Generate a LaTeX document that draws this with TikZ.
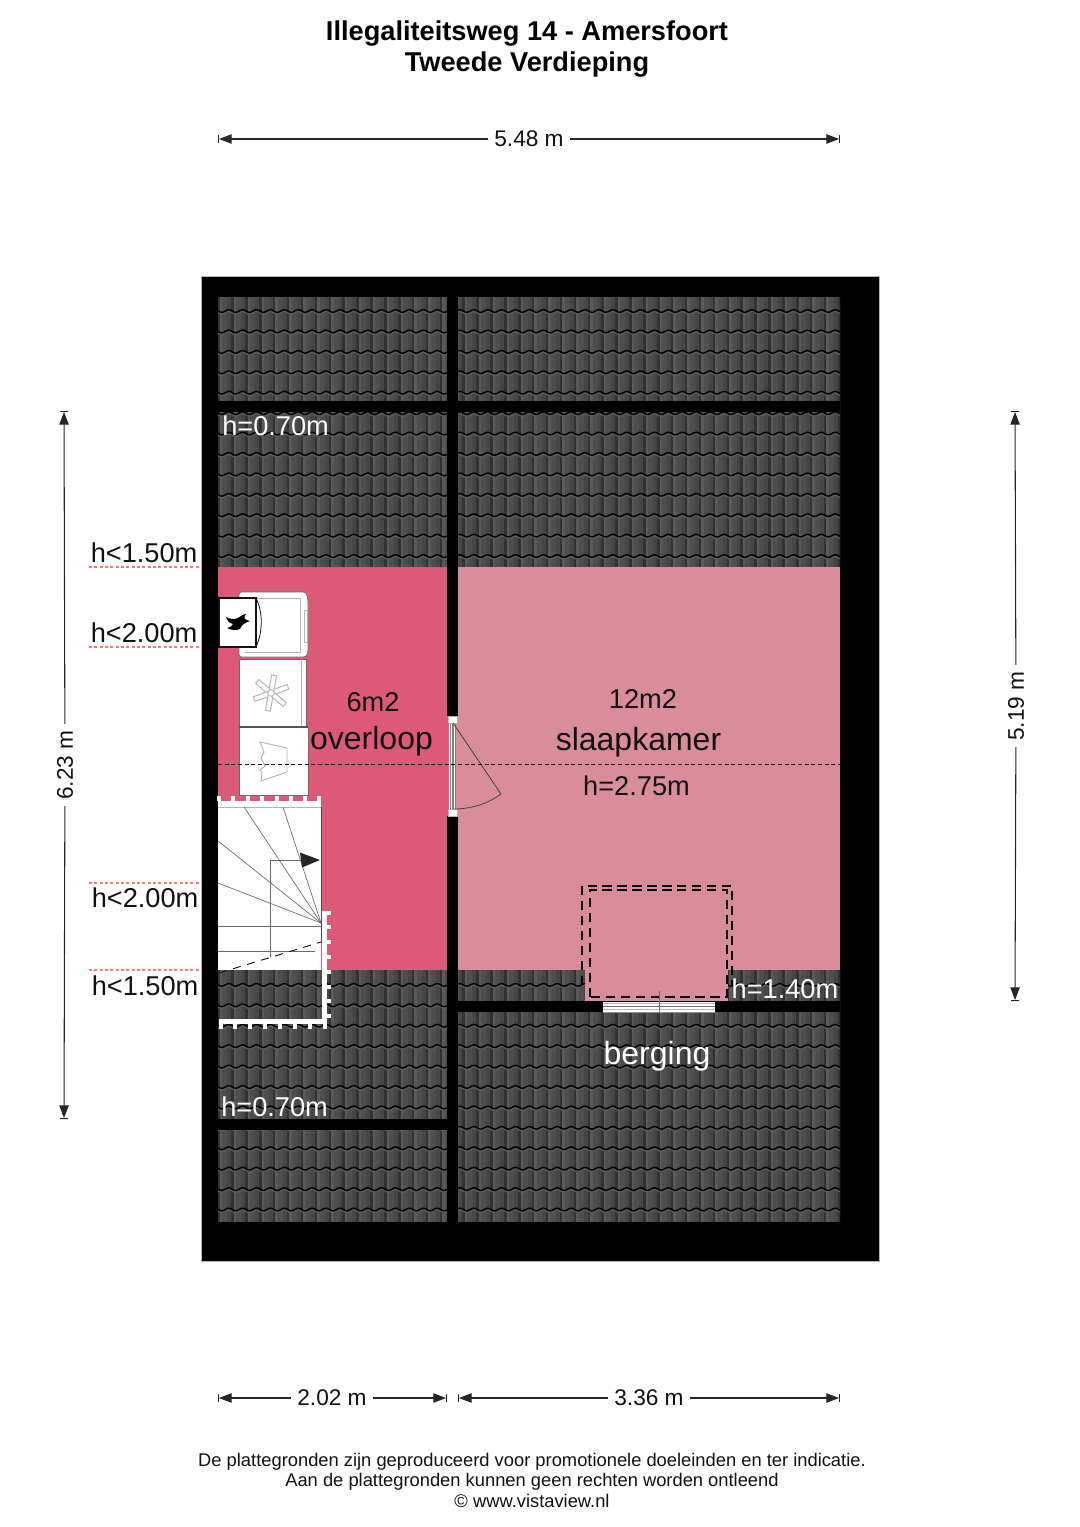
\documentclass[tikz,border=0pt]{standalone}
\usepackage{fontspec}
\setmainfont{Liberation Sans}
\usetikzlibrary{arrows.meta}
\definecolor{inkc}{HTML}{111111}
\definecolor{pinkA}{HTML}{DC5A78}
\definecolor{pinkB}{HTML}{D98D9B}
\definecolor{tileA}{HTML}{4E4E4E}
\definecolor{tileB}{HTML}{323232}
\definecolor{tileC}{HTML}{5A5A5A}
\definecolor{tileD}{HTML}{464646}
\definecolor{lineG}{HTML}{6A6A6A}
\definecolor{softG}{HTML}{B4B4B4}
\tikzset{
  lbl/.style={inner sep=0pt,text=inkc,font=\fontsize{20.4}{20.4}\selectfont},
  lblw/.style={inner sep=0pt,text=white,font=\fontsize{20.4}{20.4}\selectfont},
  lblb/.style={inner sep=0pt,text=inkc,font=\fontsize{24}{24}\selectfont},
  ttl/.style={inner sep=0pt,text=black,font=\fontsize{20.4}{20.4}\selectfont\bfseries},
  foot/.style={inner sep=0pt,text=inkc,font=\fontsize{13.75}{13.75}\selectfont},
  dimlbl/.style={inner sep=4.6pt,text=inkc,fill=white,font=\fontsize{17}{17}\selectfont},
  dimline/.style={line width=.8pt,draw=black!85},
  dimstart/.style={dimline,{Bar[width=6pt,line width=.7pt].Triangle[length=9.5pt,width=7pt]}-},
  dimend/.style={dimline,-{Triangle[length=9.5pt,width=7pt].Bar[width=6pt,line width=.7pt]}},
  redline/.style={line width=.8pt,draw=red!55!white,dash pattern=on 2.2pt off 1.8pt},
  stair/.style={line width=.5pt,draw=lineG},
  wht/.style={fill=white,draw=none},
  appl/.style={fill=white,draw=lineG,line width=.5pt},
  softl/.style={line width=.7pt,draw=softG},
}
% tile field: x0 x1 first-gap
\newcommand{\tilefield}[3]{%
  \begin{scope}
    \clip (#1,297) rectangle (#2,1222);
    \fill[tileA] (#1,297) rectangle (#2,1222);
    \foreach \c in {-1,...,30}{
      \pgfmathsetmacro{\xa}{#3+13.9*\c}
      \fill[tileD] ({\xa+9},297) rectangle ({\xa+13.9},1222);
      \fill[tileC] ({\xa+1.5},297) rectangle ({\xa+4},1222);
      \fill[tileB] ({\xa-1},297) rectangle ({\xa+1.5},1222);
    }
    \foreach \r in {0,...,46}{
      \pgfmathsetmacro{\ry}{311+20.42*\r}
      \draw[line width=.9pt,draw=tileC] plot[domain=#1:#2,samples=220,variable=\t] (\t,{\ry+2+1.3*sin(25.9*(\t-#3))});
      \draw[line width=1.05pt,draw=black] plot[domain=#1:#2,samples=220,variable=\t] (\t,{\ry+1.3*sin(25.9*(\t-#3))});
    }
  \end{scope}%
}
\begin{document}
\begin{tikzpicture}[x=.75pt,y=-.75pt]
\useasboundingbox (0,0) rectangle (1080,1527);
\fill[white] (0,0) rectangle (1080,1527);

% outer roof
\fill[black] (201,276) rectangle (879,1261);
\draw[line width=.4pt,draw=softG] (201,276) rectangle (879,1261);
\tilefield{218}{447}{218.3}
\tilefield{458}{840}{463.4}

% rooms
\fill[pinkA] (218,567) rectangle (447,970);
\fill[pinkB] (458,567) rectangle (840,970);
\fill[pinkB] (585,969) rectangle (728,1001);

% beams
\fill[black] (447,297) rectangle (458,1222);
\fill[black] (218,401) rectangle (840,412);
\fill[black] (218,1119) rectangle (447,1130);
\fill[black] (458,1001) rectangle (840,1012);

% door
\fill[pinkB] (447,716) rectangle (458,816);
\fill[pinkA] (447,716) rectangle (449,816);
\fill[wht] (449,723) rectangle (456,809);
\foreach \xx in {450,451.8,453.6,455.4}{\draw[line width=.45pt,draw=softG!70!black] (\xx,723) -- (\xx,809);}
\draw[fill=white,draw=softG,line width=.4pt] (448,716) rectangle (457,723);
\draw[fill=white,draw=softG,line width=.4pt] (448,809) rectangle (457,816);
\coordinate (hingeD) at (453,723);
\coordinate (leafD) at (501,794);
\coordinate (closeD) at (454,809);
\draw[line width=.6pt,draw=inkc!80] (hingeD) -- (leafD) .. controls (489,803) and (472,809) .. (closeD);

% fridge
\draw[appl,fill=white,rounded corners=2pt] (239,592) -- (306,592) -- (308,600) -- (308,652) -- (306,657) -- (239,657) -- cycle;
\draw[softl,line width=.5pt] (245,598) -- (300,598) -- (300,652) -- (245,652);
\draw[softl,line width=.5pt] (304,610) rectangle (307,642);
% boiler
\draw[line width=.8pt,draw=inkc,fill=white] (219,598) rectangle (256,647);
\draw[line width=.6pt,draw=inkc] (256,598) .. controls (263,612) and (263,632) .. (256,647);
% flame
\fill[black] (226,617) .. controls (232,620) and (236,620) .. (241,616) .. controls (243,615) and (244,614) .. (246,614) .. controls (243,617) and (244,620) .. (250,621) .. controls (245,623) and (242,624) .. (240,629) .. controls (236,631) and (231,630) .. (227,628) .. controls (231,627) and (232,626) .. (233,624) .. controls (230,624) and (228,622) .. (226,617) -- cycle;
% washer
\draw[appl] (239,659) rectangle (306,726);
\draw[softl] (301,659) -- (301,726);
\foreach \a in {20,80,140,200,260,320}{
  \draw[softl,fill=white,rotate around={\a:(271,693)}] (274,690.5) rectangle (289,695.5);
}
% dryer / shirt
\draw[line width=.6pt,draw=lineG,fill=white] (239,727) rectangle (308,795);
\draw[line width=.8pt,draw=lineG!80!black] (239,727) -- (308,727);
\draw[softl] (260,742) -- (287,748) -- (287,772) -- (261,781) -- (262,773) -- (260,770) -- (265,766) -- (261,758) -- (264,752) -- cycle;

% height-change dashed line
\coordinate (hA) at (218,764);
\coordinate (hB) at (840,764);
\draw[line width=.6pt,draw=inkc,dash pattern=on 3pt off 2pt] (hA) -- (hB);

% stairs
\fill[wht] (218,807) rectangle (321,970);
\fill[wht] (218,801) rectangle (321,807);
\draw[line width=.4pt,draw=softG] (218,807) -- (321,807);
\foreach \xx in {219,233,248,262,277,291,305,319}{\fill[wht] (\xx-1.7,796) rectangle (\xx+1.7,801);}
\coordinate (sC) at (321,923);
\foreach \xa/\ya in {244/807,283/807,218/841,218/883}{\coordinate (sE) at (\xa,\ya); \draw[stair] (sE) -- (sC);}
\draw[stair] (218,926.5) -- (321,926.5);
\draw[stair] (218,951) -- (315,951);
\draw[line width=.7pt,draw=lineG!70!black] (321,807) -- (321,943);
\draw[line width=.7pt,draw=inkc,dash pattern=on 6pt off 5pt] (219,973) -- (321,942);
\coordinate (walkA) at (270,957);
\coordinate (walkB) at (270,860);
\coordinate (walkC) at (300,860);
\draw[stair] (walkA) -- (walkB) -- (walkC);
\fill[black!85] (300,852.5) -- (320,860) -- (302,867.5) -- cycle;
% white railing
\fill[wht] (322,911) rectangle (327,1019);
\foreach \yy in {913,927,942,957,972,987,1001,1016}{\fill[wht] (327,\yy-1.8) rectangle (331,\yy+1.8);}
\fill[wht] (219,1019) rectangle (327,1024);
\foreach \xx in {221,235,250,265,280,295,310,325}{\fill[wht] (\xx-1.8,1024) rectangle (\xx+1.8,1029);}

% dormer
\draw[line width=1.1pt,draw=black,dash pattern=on 7pt off 4.2pt] (582,985) -- (582,886) -- (732,886) -- (732,985);
\draw[line width=1.1pt,draw=black,dash pattern=on 7pt off 4.2pt] (590,997) -- (590,890) -- (723,890) -- (727,890) -- (727,997) -- cycle;
\fill[wht] (603,1002) rectangle (715,1013);
\foreach \yy/\cc in {1003/softG,1006/softG!60!black,1009/softG,1012/softG!80!black}{\draw[line width=.6pt,draw=\cc] (603,\yy) -- (715,\yy);}
\draw[line width=.5pt,draw=lineG] (659,991) -- (659,1013);

% texts in the plan
\node[lblw,anchor=west] (t070a) at (222,426) {h=0.70m};
\node[lblw,anchor=west] (t070b) at (221,1107) {h=0.70m};
\node[lblw,anchor=east] (t140) at (838.5,989) {h=1.40m};
\node[lbl] (t6) at (373,702) {6m2};
\node[lblb] (tover) at (371.5,741.5) {overloop};
\node[lbl] (t12) at (643,699) {12m2};
\node[lblb] (tslaap) at (638.5,742.5) {slaapkamer};
\node[lbl] (t275) at (636.5,786) {h=2.75m};
\node[lblb,text=white] (tberg) at (657,1056) {berging};

% side heights
\node[lbl,anchor=west] (l1) at (90.5,552.5) {h<1.50m};
\node[lbl,anchor=west] (l2) at (90.5,632.5) {h<2.00m};
\node[lbl,anchor=west] (l3) at (91.5,897.5) {h<2.00m};
\node[lbl,anchor=west] (l4) at (91.5,985.5) {h<1.50m};
\foreach \yy/\nm in {567/a,647/b,883/c,970/d}{
  \coordinate (r\nm1) at (89,\yy);
  \coordinate (r\nm2) at (201,\yy);
  \draw[redline] (r\nm1) -- (r\nm2);
}

% title
\node[ttl] (title1) at (527,34) {Illegaliteitsweg 14 - Amersfoort};
\node[ttl] (title2) at (527,65) {Tweede Verdieping};

% dimensions
\coordinate (dtA) at (218,139);
\coordinate (dtB) at (840,139);
\node[dimlbl] (dt) at (529,139) {5.48 m};
\draw[dimstart] (dtA) -- (dt);
\draw[dimend] (dt) -- (dtB);

\coordinate (dlA) at (64,411);
\coordinate (dlB) at (64,1119);
\node[dimlbl,rotate=90] (dl) at (65,765) {6.23 m};
\draw[dimstart] (dlA) -- (dl);
\draw[dimend] (dl) -- (dlB);

\coordinate (drA) at (1015,411);
\coordinate (drB) at (1015,1001);
\node[dimlbl,rotate=90] (dr) at (1016,706) {5.19 m};
\draw[dimstart] (drA) -- (dr);
\draw[dimend] (dr) -- (drB);

\coordinate (dbA) at (218,1398);
\coordinate (dbB) at (447,1398);
\node[dimlbl] (db) at (332,1398) {2.02 m};
\draw[dimstart] (dbA) -- (db);
\draw[dimend] (db) -- (dbB);

\coordinate (dcA) at (458,1398);
\coordinate (dcB) at (840,1398);
\node[dimlbl] (dc) at (649,1398) {3.36 m};
\draw[dimstart] (dcA) -- (dc);
\draw[dimend] (dc) -- (dcB);

% footer
\node[foot] (f1) at (532,1462) {De plattegronden zijn geproduceerd voor promotionele doeleinden en ter indicatie.};
\node[foot] (f2) at (532,1482) {Aan de plattegronden kunnen geen rechten worden ontleend};
\node[foot] (f3) at (532,1500.5) {© www.vistaview.nl};
\end{tikzpicture}
\end{document}
